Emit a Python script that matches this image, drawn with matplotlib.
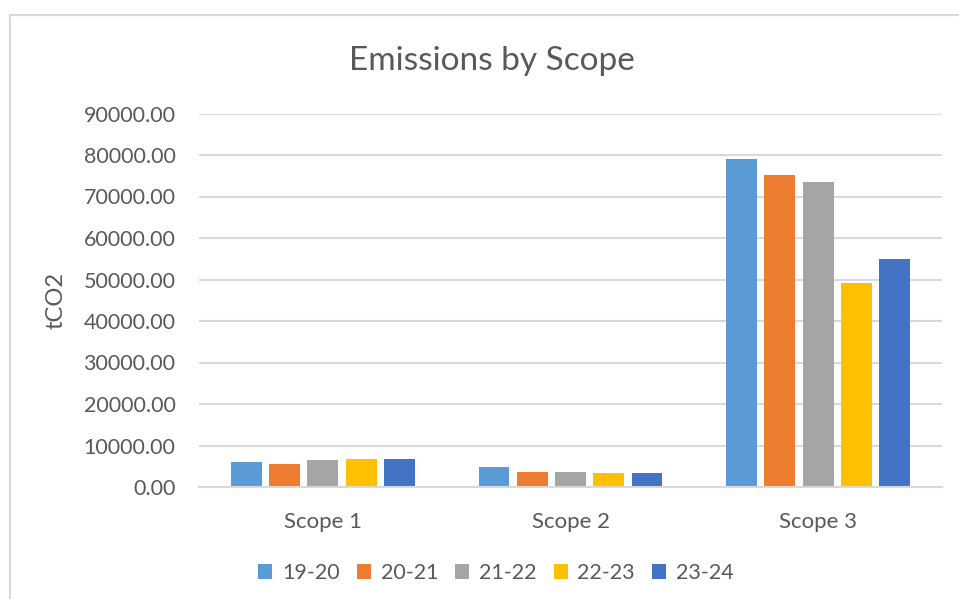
import matplotlib
matplotlib.use("Agg")
import matplotlib.pyplot as plt
from matplotlib.patches import Rectangle
import numpy as np

categories = ["Scope 1", "Scope 2", "Scope 3"]
series_names = ["19-20", "20-21", "21-22", "22-23", "23-24"]
values_19_20 = [6100, 4900, 79030]
values_20_21 = [5540, 3690, 75160]
values_21_22 = [6430, 3690, 73460]
values_22_23 = [6750, 3450, 49270]
values_23_24 = [6750, 3450, 54840]
series_values = [values_19_20, values_20_21, values_21_22, values_22_23, values_23_24]
colors = ["#5B9BD5", "#ED7D31", "#A5A5A5", "#FFC000", "#4472C4"]
y_ticks = [0, 10000, 20000, 30000, 40000, 50000, 60000, 70000, 80000, 90000]

text_color = "#595959"
grid_color = "#D9D9D9"
plt.rcParams["font.family"] = ["Lato", "DejaVu Sans"]

fig = plt.figure(figsize=(9.59, 5.99), dpi=100)
fig.patch.set_facecolor("white")

# chart border (only top and left are inside the canvas)
fig.add_artist(Rectangle((10 / 959, -0.1), 1.2, 1 - 15 / 599 + 0.1,
                         transform=fig.transFigure, fill=False,
                         edgecolor=grid_color, linewidth=1.6))

ax = fig.add_axes([199 / 959, 1 - 487 / 599, (942 - 199) / 959, (487 - 113.5) / 599])

x = np.arange(len(categories))
pitch = 0.1547
width = 0.124
for i, (name, vals, c) in enumerate(zip(series_names, series_values, colors)):
    ax.bar(x + (i - 2) * pitch, vals, width=width, color=c, label=name, zorder=3)

ax.set_xlim(-0.5, 2.5)
ax.set_ylim(0, 90000)
ax.set_yticks(y_ticks)
ax.set_yticklabels([f"{v:.2f}" for v in y_ticks])
ax.set_xticks(x)
ax.set_xticklabels(categories)
ax.tick_params(axis="both", length=0, colors=text_color, labelsize=15.5)
ax.tick_params(axis="x", labelsize=16)
ax.tick_params(axis="y", pad=17)
ax.tick_params(axis="x", pad=18)
ax.yaxis.grid(True, color=grid_color, linewidth=1.5, zorder=0)
for s in ["top", "right", "left"]:
    ax.spines[s].set_visible(False)
ax.spines["bottom"].set_color(grid_color)
ax.spines["bottom"].set_linewidth(1.5)
ax.spines["bottom"].set_zorder(4)

ax.set_ylabel("tCO2", color=text_color, fontsize=17, labelpad=12)
fig.text(492 / 959, 1 - 61 / 599, "Emissions by Scope", ha="center", va="center",
         color=text_color, fontsize=24)

fig.legend(loc="center", bbox_to_anchor=(496 / 959, 1 - 573 / 599), ncol=5,
           frameon=False, fontsize=15.5, labelcolor=text_color,
           handlelength=0.65, handleheight=0.65, handletextpad=0.45, columnspacing=0.8)

fig.savefig("out.png", dpi=100, facecolor="white")
